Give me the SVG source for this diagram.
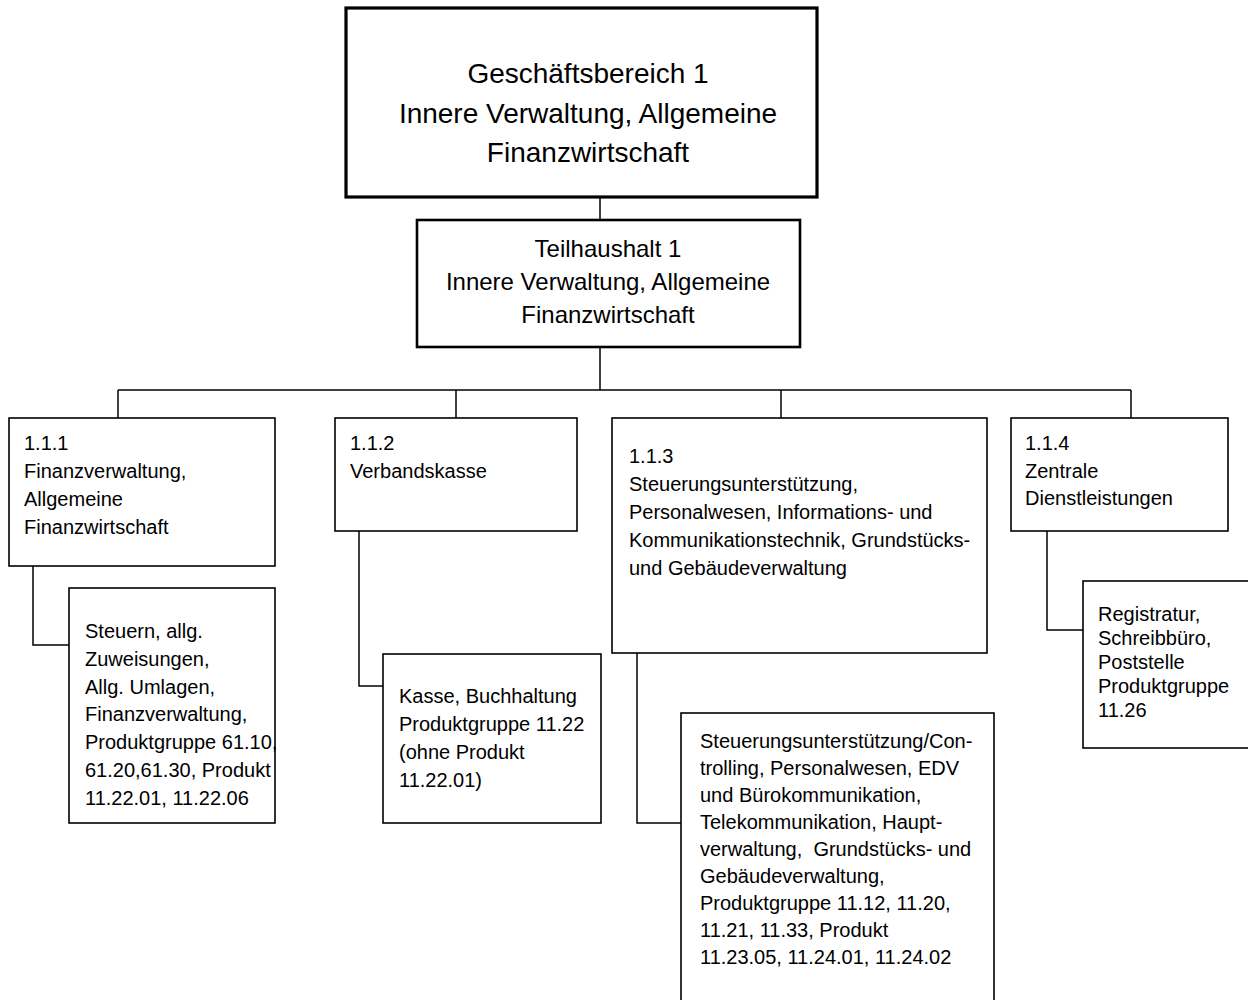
<svg xmlns="http://www.w3.org/2000/svg" width="1248" height="1000" viewBox="0 0 1248 1000">
<style>
  .box { fill: #ffffff; stroke: #000000; stroke-width: 1.6; }
  .thick { stroke-width: 3.2; }
  .mid { stroke-width: 2.6; }
  .conn { fill: none; stroke: #000000; stroke-width: 1.5; }
  text { font-family: "Liberation Sans", Arial, sans-serif; fill: #000000; }
  .big { font-size: 28px; text-anchor: middle; }
  .med { font-size: 24px; text-anchor: middle; }
  .sm { font-size: 20px; }
</style>
<rect width="1248" height="1000" fill="#ffffff"/>
<g id="connectors">
  <path class="conn" d="M600,197 V220"/>
  <path class="conn" d="M600,347 V390"/>
  <path class="conn" d="M118,390 H1131"/>
  <path class="conn" d="M118,390 V418"/>
  <path class="conn" d="M456,390 V418"/>
  <path class="conn" d="M781,390 V418"/>
  <path class="conn" d="M1131,390 V418"/>
  <path class="conn" d="M33,566 V645 H69"/>
  <path class="conn" d="M359,531 V686 H383"/>
  <path class="conn" d="M637,653 V823 H681"/>
  <path class="conn" d="M1047,531 V630 H1083"/>
</g>
<g id="n-geschaeftsbereich">
  <rect class="box thick" x="346" y="8" width="471" height="189"/>
  <text class="big" x="588" y="83">Geschäftsbereich 1</text>
  <text class="big" x="588" y="123">Innere Verwaltung, Allgemeine</text>
  <text class="big" x="588" y="162">Finanzwirtschaft</text>
</g>
<g id="n-teilhaushalt">
  <rect class="box mid" x="417" y="220" width="383" height="127"/>
  <text class="med" x="608" y="257">Teilhaushalt 1</text>
  <text class="med" x="608" y="290">Innere Verwaltung, Allgemeine</text>
  <text class="med" x="608" y="323">Finanzwirtschaft</text>
</g>
<g id="n-111">
  <rect class="box" x="9" y="418" width="266" height="148"/>
  <text class="sm" x="24" y="450">1.1.1</text>
  <text class="sm" x="24" y="478">Finanzverwaltung,</text>
  <text class="sm" x="24" y="506">Allgemeine</text>
  <text class="sm" x="24" y="534">Finanzwirtschaft</text>
</g>
<g id="n-111-child">
  <rect class="box" x="69" y="588" width="206" height="235"/>
  <text class="sm" x="85" y="638">Steuern, allg.</text>
  <text class="sm" x="85" y="666">Zuweisungen,</text>
  <text class="sm" x="85" y="694">Allg. Umlagen,</text>
  <text class="sm" x="85" y="721">Finanzverwaltung,</text>
  <text class="sm" x="85" y="749">Produktgruppe 61.10,</text>
  <text class="sm" x="85" y="777">61.20,61.30, Produkt</text>
  <text class="sm" x="85" y="805">11.22.01, 11.22.06</text>
</g>
<g id="n-112">
  <rect class="box" x="335" y="418" width="242" height="113"/>
  <text class="sm" x="350" y="450">1.1.2</text>
  <text class="sm" x="350" y="478">Verbandskasse</text>
</g>
<g id="n-112-child">
  <rect class="box" x="383" y="654" width="218" height="169"/>
  <text class="sm" x="399" y="703">Kasse, Buchhaltung</text>
  <text class="sm" x="399" y="731">Produktgruppe 11.22</text>
  <text class="sm" x="399" y="759">(ohne Produkt</text>
  <text class="sm" x="399" y="787">11.22.01)</text>
</g>
<g id="n-113">
  <rect class="box" x="612" y="418" width="375" height="235"/>
  <text class="sm" x="629" y="463">1.1.3</text>
  <text class="sm" x="629" y="491">Steuerungsunterstützung,</text>
  <text class="sm" x="629" y="519">Personalwesen, Informations- und</text>
  <text class="sm" x="629" y="547">Kommunikationstechnik, Grundstücks-</text>
  <text class="sm" x="629" y="575">und Gebäudeverwaltung</text>
</g>
<g id="n-113-child">
  <rect class="box" x="681" y="713" width="313" height="320"/>
  <text class="sm" x="700" y="748">Steuerungsunterstützung/Con-</text>
  <text class="sm" x="700" y="775">trolling, Personalwesen, EDV</text>
  <text class="sm" x="700" y="802">und Bürokommunikation,</text>
  <text class="sm" x="700" y="829">Telekommunikation, Haupt-</text>
  <text class="sm" x="700" y="856" xml:space="preserve">verwaltung,  Grundstücks- und</text>
  <text class="sm" x="700" y="883">Gebäudeverwaltung,</text>
  <text class="sm" x="700" y="910">Produktgruppe 11.12, 11.20,</text>
  <text class="sm" x="700" y="937">11.21, 11.33, Produkt</text>
  <text class="sm" x="700" y="964">11.23.05, 11.24.01, 11.24.02</text>
</g>
<g id="n-114">
  <rect class="box" x="1011" y="418" width="217" height="113"/>
  <text class="sm" x="1025" y="450">1.1.4</text>
  <text class="sm" x="1025" y="478">Zentrale</text>
  <text class="sm" x="1025" y="505">Dienstleistungen</text>
</g>
<g id="n-114-child">
  <rect class="box" x="1083" y="581" width="200" height="167"/>
  <text class="sm" x="1098" y="621">Registratur,</text>
  <text class="sm" x="1098" y="645">Schreibbüro,</text>
  <text class="sm" x="1098" y="669">Poststelle</text>
  <text class="sm" x="1098" y="693">Produktgruppe</text>
  <text class="sm" x="1098" y="717">11.26</text>
</g>
</svg>
